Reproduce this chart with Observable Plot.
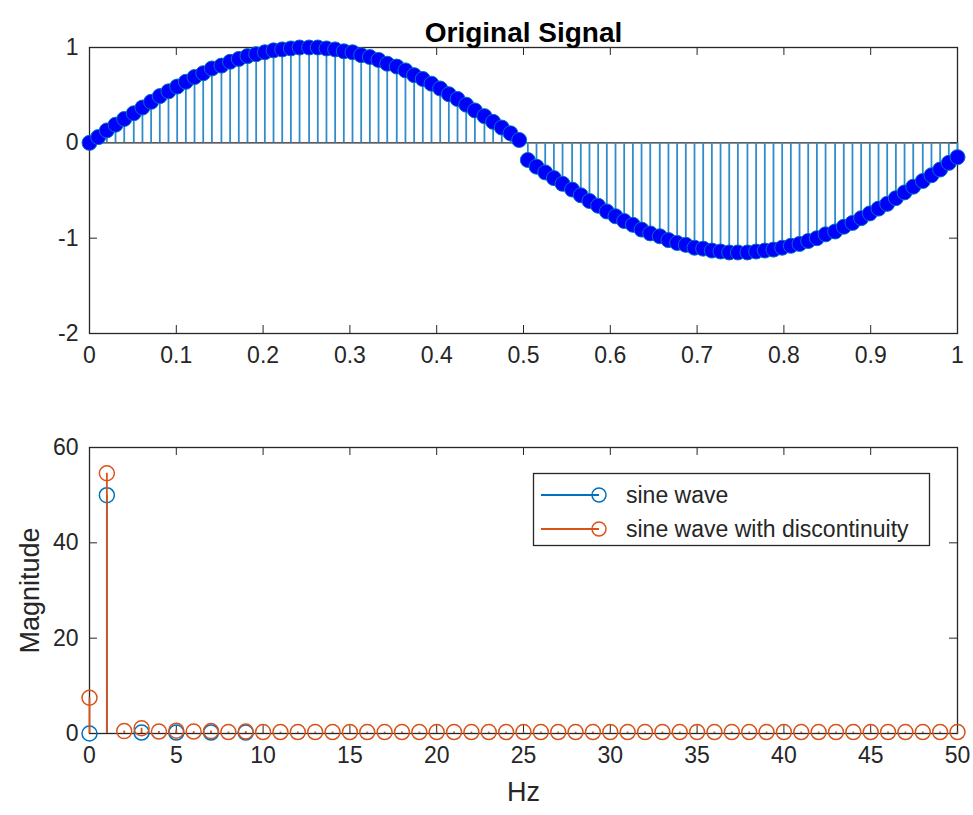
<!DOCTYPE html>
<html><head><meta charset="utf-8">
<script src="https://cdn.jsdelivr.net/npm/d3@7"></script>
<script src="https://cdn.jsdelivr.net/npm/@observablehq/plot@0.6"></script>
<style>
body{margin:0;background:#fff;}
#fig{position:relative;width:973px;height:815px;font-family:"Liberation Sans",Arial,sans-serif;color:#262626;background:#fff;}
#top,#bottom{position:absolute;left:0;}
#top{top:0px}
#bottom{top:400px}
#legend{position:absolute;left:533px;top:473px;}
</style></head><body>
<div id="fig"><div id="top"></div><div id="bottom"></div><div id="legend"></div></div>
<script>
// ---------- data ----------
const sampleTime = [0,0.010,0.020,0.030,0.040,0.051,0.061,0.071,0.081,0.091,0.101,0.111,0.121,0.131,0.141,0.152,0.162,0.172,0.182,0.192,0.202,0.212,0.222,0.232,0.242,0.253,0.263,0.273,0.283,0.293,0.303,0.313,0.323,0.333,0.343,0.354,0.364,0.374,0.384,0.394,0.404,0.414,0.424,0.434,0.444,0.455,0.465,0.475,0.485,0.495,0.505,0.515,0.525,0.535,0.545,0.556,0.566,0.576,0.586,0.596,0.606,0.616,0.626,0.636,0.646,0.657,0.667,0.677,0.687,0.697,0.707,0.717,0.727,0.737,0.747,0.758,0.768,0.778,0.788,0.798,0.808,0.818,0.828,0.838,0.848,0.859,0.869,0.879,0.889,0.899,0.909,0.919,0.929,0.939,0.949,0.960,0.970,0.980,0.990,1.000];
const signalValue = [0,0.06,0.13,0.19,0.25,0.31,0.37,0.43,0.49,0.54,0.59,0.64,0.69,0.73,0.78,0.81,0.85,0.88,0.91,0.93,0.95,0.97,0.98,0.99,1.00,1.00,1.00,0.99,0.98,0.96,0.95,0.92,0.90,0.87,0.83,0.80,0.76,0.71,0.67,0.62,0.57,0.51,0.46,0.40,0.34,0.28,0.22,0.16,0.10,0.03,
 -0.18,-0.25,-0.31,-0.37,-0.43,-0.49,-0.55,-0.61,-0.66,-0.72,-0.77,-0.82,-0.86,-0.91,-0.95,-0.98,-1.02,-1.05,-1.07,-1.10,-1.11,-1.13,-1.14,-1.15,-1.15,-1.15,-1.14,-1.13,-1.12,-1.10,-1.08,-1.06,-1.03,-1.00,-0.96,-0.93,-0.88,-0.84,-0.79,-0.74,-0.69,-0.64,-0.58,-0.52,-0.46,-0.40,-0.34,-0.28,-0.21,-0.15];

const hzDisc = [0,1,2,3,4,5,6,7,8,9,10,11,12,13,14,15,16,17,18,19,20,21,22,23,24,25,26,27,28,29,30,31,32,33,34,35,36,37,38,39,40,41,42,43,44,45,46,47,48,49,50];
const magDisc = [7.5,54.6,0.5,1.1,0.4,0.6,0.4,0.5,0.3,0.4,0.3,0.3,0.3,0.3,0.3,0.3,0.3,0.3,0.3,0.3,0.3,0.3,0.3,0.3,0.3,0.3,0.3,0.3,0.3,0.3,0.3,0.3,0.3,0.3,0.3,0.3,0.3,0.3,0.3,0.3,0.3,0.3,0.3,0.3,0.3,0.3,0.3,0.3,0.3,0.3,0.3];
const hzSine = [0,1,3,5,7,9];
const magSine = [0,50,0.2,0.2,0.2,0.2];

const seriesNames = ["sine wave","sine wave with discontinuity"];
const topTitle = "Original Signal";
const xLabelBottom = "Hz";
const yLabelBottom = "Magnitude";

const topXTicks = [0,0.1,0.2,0.3,0.4,0.5,0.6,0.7,0.8,0.9,1];
const topYTicks = [-2,-1,0,1];
const botXTicks = [0,5,10,15,20,25,30,35,40,45,50];
const botYTicks = [0,20,40,60];

// ---------- style ----------
const FONT = '"Liberation Sans", Arial, sans-serif';
const AX = "#262626";
const BLUE = "#0072BD";
const STEMBLUE = "#2f8ccc";
const ORANGE = "#D95319";
const TICK_FS = 23;
const W = 973, mL = 89, mR = 16;
const fw = W - mL - mR;

function axisMarks(xt, yt, fh) {
  const t = 8;
  const fmt = d => String(d);
  return [
    Plot.tickX(xt, {x: d => d, insetTop: fh - t, stroke: AX, strokeWidth: 1}),
    Plot.tickX(xt, {x: d => d, insetBottom: fh - t, stroke: AX, strokeWidth: 1}),
    Plot.tickY(yt, {y: d => d, insetRight: fw - t, stroke: AX, strokeWidth: 1}),
    Plot.tickY(yt, {y: d => d, insetLeft: fw - t, stroke: AX, strokeWidth: 1}),
    Plot.axisX({ticks: xt, tickSize: 0, tickPadding: 13, tickFormat: fmt, fontSize: TICK_FS, fill: AX, label: null}),
    Plot.axisY({ticks: yt, tickSize: 0, tickPadding: 11, tickFormat: fmt, fontSize: TICK_FS, fill: AX, label: null}),
    Plot.frame({stroke: AX, strokeWidth: 1.3})
  ];
}

// ---------- top plot ----------
const sig = sampleTime.map((t, i) => ({t, v: signalValue[i]}));
const topH = 400, topMT = 47, topMB = 67;
const topPlot = Plot.plot({
  width: W, height: topH,
  marginLeft: mL, marginRight: mR, marginTop: topMT, marginBottom: topMB,
  style: {fontFamily: FONT, fontSize: TICK_FS + "px", color: AX, background: "transparent", overflow: "visible"},
  x: {domain: [0, 1], label: null},
  y: {domain: [-2, 1], label: null},
  marks: [
    ...axisMarks(topXTicks, topYTicks, topH - topMT - topMB),
    Plot.ruleY([0], {stroke: AX, strokeWidth: 1.3}),
    Plot.ruleX(sig, {x: "t", y1: 0, y2: "v", stroke: STEMBLUE, strokeWidth: 1.8}),
    Plot.dot(sig, {x: "t", y: "v", r: 7.5, fill: "#0000FF", stroke: BLUE, strokeWidth: 1}),
    Plot.text([topTitle], {frameAnchor: "top", dy: -25, textAnchor: "middle", fontWeight: "bold", fontSize: 28, fill: "#000"})
  ]
});
document.getElementById("top").append(topPlot);

// ---------- bottom plot ----------
const disc = hzDisc.map((h, i) => ({h, m: magDisc[i]}));
const sine = hzSine.map((h, i) => ({h, m: magSine[i]}));
const botH = 415, botMT = 47, botMB = 82;
const botPlot = Plot.plot({
  width: W, height: botH,
  marginLeft: mL, marginRight: mR, marginTop: botMT, marginBottom: botMB,
  style: {fontFamily: FONT, fontSize: TICK_FS + "px", color: AX, background: "transparent", overflow: "visible"},
  x: {domain: [0, 50], label: null},
  y: {domain: [0, 60], label: null},
  marks: [
    ...axisMarks(botXTicks, botYTicks, botH - botMT - botMB),
    Plot.ruleX(sine, {x: "h", y1: 0, y2: "m", stroke: BLUE, strokeWidth: 1.8}),
    Plot.dot(sine, {x: "h", y: "m", r: 7.5, fill: "none", stroke: BLUE, strokeWidth: 1.5}),
    Plot.ruleX(disc, {x: "h", y1: 0, y2: "m", stroke: ORANGE, strokeWidth: 1.8}),
    Plot.dot(disc, {x: "h", y: "m", r: 7.5, fill: "none", stroke: ORANGE, strokeWidth: 1.5}),
    Plot.text([xLabelBottom], {frameAnchor: "bottom", dy: 67, textAnchor: "middle", fontSize: 27, fill: AX}),
    Plot.text([yLabelBottom], {frameAnchor: "left", dx: -59, rotate: -90, textAnchor: "middle", fontSize: 27, fill: AX})
  ]
});
document.getElementById("bottom").append(botPlot);

// ---------- legend ----------
const colors = [BLUE, ORANGE];
const lw = 397, lh = 73;
const leg = d3.select("#legend").append("svg").attr("width", lw).attr("height", lh)
  .style("font-family", FONT).style("overflow", "visible");
leg.append("rect").attr("x", 0.5).attr("y", 0.5).attr("width", lw - 1).attr("height", lh - 1)
  .attr("fill", "#fff").attr("stroke", AX).attr("stroke-width", 1.3);
seriesNames.forEach((name, i) => {
  const cy = 22 + i * 34;
  leg.append("line").attr("x1", 8).attr("x2", 66).attr("y1", cy).attr("y2", cy)
    .attr("stroke", colors[i]).attr("stroke-width", 1.8);
  leg.append("circle").attr("cx", 66).attr("cy", cy).attr("r", 7).attr("fill", "none")
    .attr("stroke", colors[i]).attr("stroke-width", 1.5);
  leg.append("text").attr("x", 93).attr("y", cy).attr("dy", "0.35em").attr("font-size", 23)
    .attr("fill", AX).text(name);
});
</script>
</body></html>
